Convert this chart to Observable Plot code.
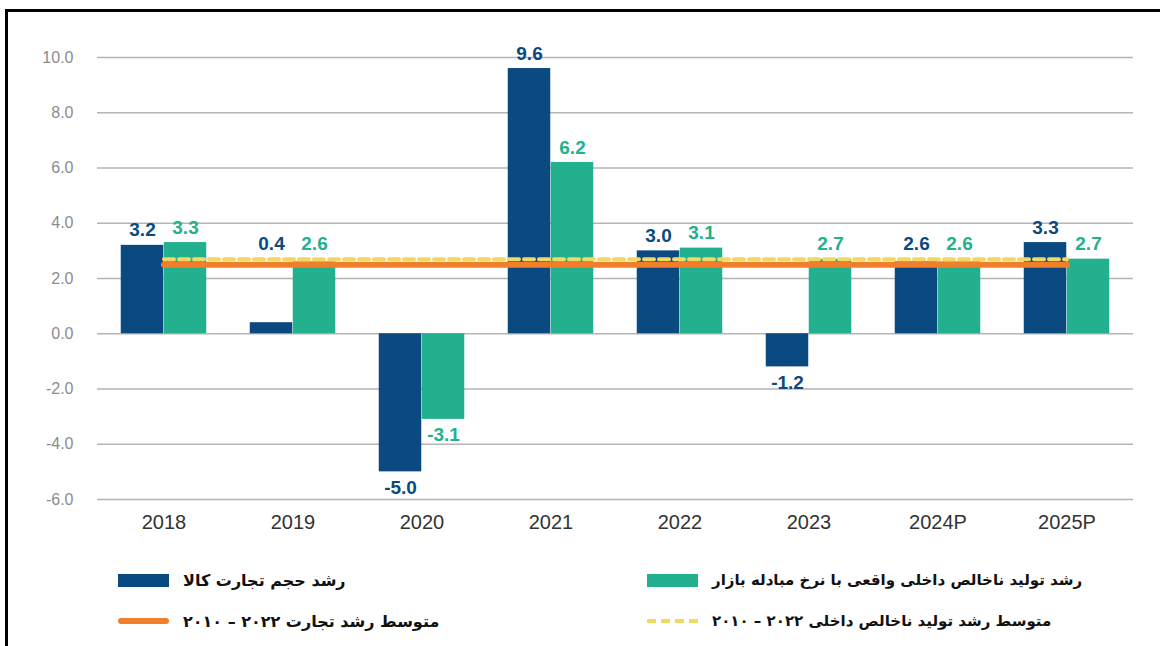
<!DOCTYPE html>
<html><head><meta charset="utf-8">
<script src="https://cdn.jsdelivr.net/npm/d3@7"></script>
<script src="https://cdn.jsdelivr.net/npm/@observablehq/plot@0.6"></script>
<style>
html,body{margin:0;padding:0;width:1160px;height:646px;overflow:hidden;background:#fff;}
#frame{position:absolute;left:5px;top:9px;width:1200px;height:700px;border-top:3px solid #000;border-left:3px solid #000;box-sizing:border-box;}
#chart{position:absolute;left:0;top:0;}
.leg{position:absolute;display:flex;align-items:center;font-family:"DejaVu Sans",sans-serif;font-weight:bold;font-size:16px;color:#111;height:20px;}
.sw{width:51px;flex:none;margin-right:14px;}
</style></head>
<body>
<div id="frame"></div>
<div id="chart"></div>
<div id="legend"></div>
<script>
const years = ["2018","2019","2020","2021","2022","2023","2024P","2025P"];
const tradeGrowth = [3.2, 0.4, -5.0, 9.6, 3.0, -1.2, 2.6, 3.3];
const gdpGrowth = [3.3, 2.6, -3.1, 6.2, 3.1, 2.7, 2.6, 2.7];
const tradeAvg = 2.5;
const gdpAvg = 2.7;
const yTicks = [-6, -4, -2, 0, 2, 4, 6, 8, 10];
const legendLabels = [
  "رشد حجم تجارت کالا",
  "متوسط رشد تجارت ۲۰۲۲ – ۲۰۱۰",
  "رشد تولید ناخالص داخلی واقعی با نرخ مبادله بازار",
  "متوسط رشد تولید ناخالص داخلی ۲۰۲۲ – ۲۰۱۰"
];

const navy = "#0b4a80";
const green = "#22b08e";
const orange = "#f07f2c";
const yellow = "#f1d864";

const data = years.map((y, i) => ({year: y, trade: tradeGrowth[i], gdp: gdpGrowth[i], tradeAvg, gdpAvg}));
const step = (1160 - 97 - 27) / years.length;
const bw = 43;
const fmt = v => v.toFixed(1);

const chart = Plot.plot({
  width: 1160, height: 545,
  marginLeft: 97, marginRight: 27, marginTop: 57, marginBottom: 46,
  style: {background: "transparent", fontFamily: "'Liberation Sans', Arial, sans-serif"},
  x: {domain: years, padding: 0},
  y: {domain: [-6, 10]},
  marks: [
    Plot.ruleY(yTicks, {stroke: "#b5b5b5", strokeWidth: 1.5}),
    Plot.axisY({ticks: yTicks, tickFormat: fmt, tickSize: 0, tickPadding: 24, fontSize: 16, color: "#8c8c8c", label: null}),
    Plot.axisX({tickSize: 0, tickPadding: 15, fontSize: 20, color: "#333", label: null}),
    Plot.barY(data, {x: "year", y: "trade", fill: navy, insetLeft: step/2 - bw, insetRight: step/2}),
    Plot.barY(data, {x: "year", y: "gdp", fill: green, insetLeft: step/2, insetRight: step/2 - bw}),
    Plot.lineY(data, {x: "year", y: "tradeAvg", stroke: orange, strokeWidth: 6}),
    Plot.lineY(data, {x: "year", y: "gdpAvg", stroke: yellow, strokeWidth: 4, strokeDasharray: "10,5"}),
    Plot.text(data.filter(d => d.trade >= 0), {x: "year", y: d => Math.max(d.trade, gdpAvg), text: d => fmt(d.trade), dx: -bw/2, dy: -15, fill: navy, fontSize: 19, fontWeight: "bold"}),
    Plot.text(data.filter(d => d.trade < 0), {x: "year", y: "trade", text: d => fmt(d.trade), dx: -bw/2, dy: 16, fill: navy, fontSize: 19, fontWeight: "bold"}),
    Plot.text(data.filter(d => d.gdp >= 0), {x: "year", y: d => Math.max(d.gdp, gdpAvg), text: d => fmt(d.gdp), dx: bw/2, dy: -15, fill: green, fontSize: 19, fontWeight: "bold"}),
    Plot.text(data.filter(d => d.gdp < 0), {x: "year", y: "gdp", text: d => fmt(d.gdp), dx: bw/2, dy: 16, fill: green, fontSize: 19, fontWeight: "bold"})
  ]
});
document.getElementById("chart").appendChild(chart);

const items = [
  {left: 118, top: 570, size: 16, label: legendLabels[0], sw: `height:13px;background:${navy};`},
  {left: 118, top: 611, size: 16, label: legendLabels[1], sw: `height:6px;border-radius:3px;background:${orange};`},
  {left: 647, top: 570, size: 15, label: legendLabels[2], sw: `height:13px;background:${green};`},
  {left: 647, top: 611, size: 15, label: legendLabels[3], sw: `height:4px;background:repeating-linear-gradient(90deg, ${yellow} 0 9px, transparent 9px 14px);`}
];
const leg = document.getElementById("legend");
for (const it of items) {
  const d = document.createElement("div");
  d.className = "leg";
  d.style.left = it.left + "px";
  d.style.top = it.top + "px";
  d.style.fontSize = it.size + "px";
  const s = document.createElement("div");
  s.className = "sw";
  s.style.cssText = it.sw;
  const t = document.createElement("span");
  t.dir = "rtl";
  t.textContent = it.label;
  d.appendChild(s); d.appendChild(t);
  leg.appendChild(d);
}
</script>
</body></html>
